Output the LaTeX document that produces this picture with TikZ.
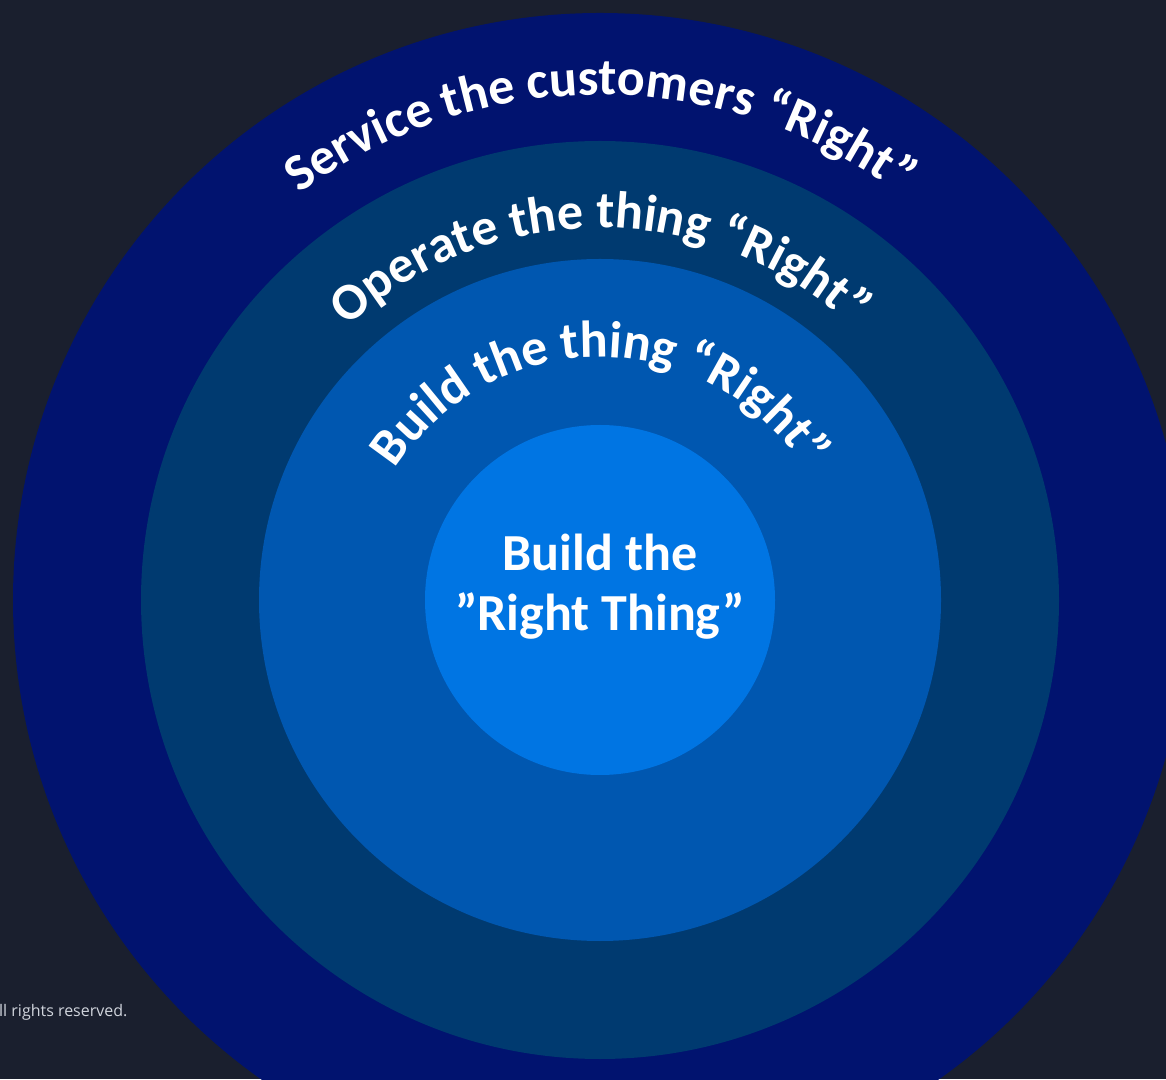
\documentclass[tikz,border=0pt]{standalone}
\usepackage{fontspec}
\setmainfont{Carlito}
\newfontfamily\footfont{Open Sans}
\usetikzlibrary{decorations.text}
\definecolor{bg}{RGB}{26,31,46}
\definecolor{ringA}{RGB}{1,19,111}
\definecolor{ringB}{RGB}{0,58,112}
\definecolor{ringC}{RGB}{0,87,176}
\definecolor{ringD}{RGB}{0,117,227}
\definecolor{foot}{RGB}{208,212,220}
\tikzset{
  arctext/.style={decorate, decoration={text along path, text align=center, text color=white, text={|\fontsize{52}{60}\selectfont\bfseries|#1}}},
  ring/.style={fill=#1, draw=none}
}
\begin{document}
\begin{tikzpicture}[x=1pt,y=1pt]
\useasboundingbox (0,0) rectangle (1166,1079);
\clip (0,0) rectangle (1166,1079);
\fill[bg] (0,0) rectangle (1166,1079);
\coordinate (c) at (600,479);
\fill[ring=ringA] (c) circle[radius=587];
\fill[ring=ringB] (c) circle[radius=459];
\fill[ring=ringC] (c) circle[radius=341];
\fill[ring=ringD] (c) circle[radius=175];
\path[arctext={Service the customers “Right”}] (c) ++(150:505) arc[start angle=150, end angle=30, radius=505];
\path[arctext={Operate the thing “Right”}] (c) ++(160:372) arc[start angle=160, end angle=20, radius=372];
\path[arctext={Build the thing “Right”}] (c) ++(175:243) arc[start angle=175, end angle=5, radius=243];
\node[align=center, text=white, font=\bfseries\fontsize{52}{60}\selectfont] (core) at (600,492) {Build the\\”Right Thing”};
\node[anchor=base west, inner sep=0, text=foot, font=\footfont\fontsize{16}{18}\selectfont] (foot) at (-1,63) {ll rights reserved.};
\end{tikzpicture}
\end{document}
